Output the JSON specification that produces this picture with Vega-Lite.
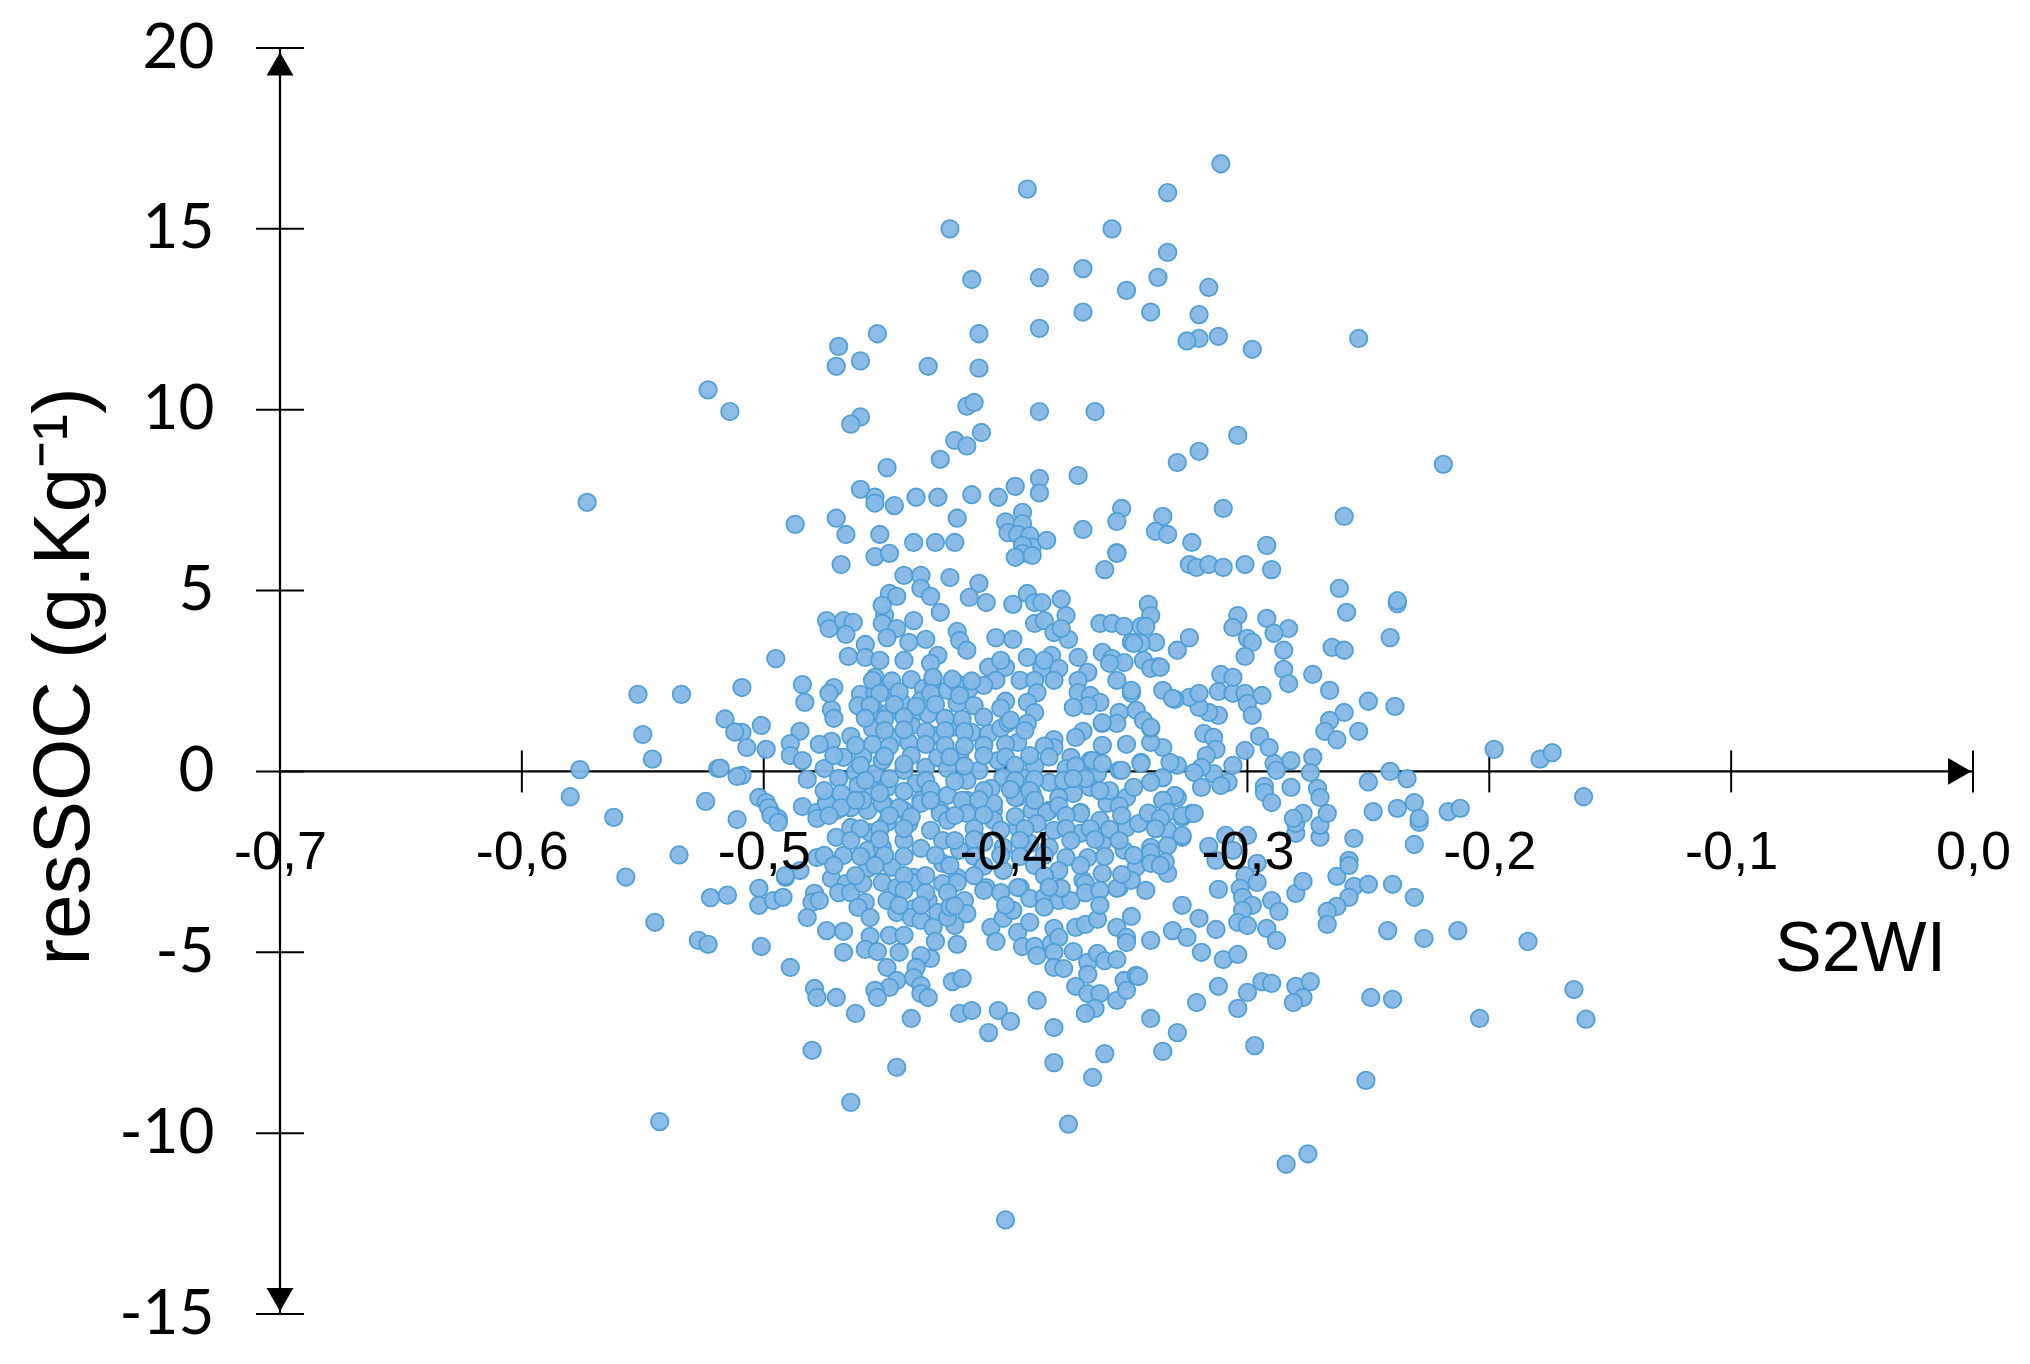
{"$schema":"https://vega.github.io/schema/vega-lite/v6.json","width":1693,"height":1266,"autosize":"none","padding":{"left":280,"top":48,"right":57,"bottom":50},"background":"white","config":{"view":{"stroke":null}},
"datasets":{"pts":[
{"s":-0.391,"r":16.1},{"s":-0.423,"r":15.0},{"s":-0.414,"r":13.6},{"s":-0.386,"r":13.65},{"s":-0.453,"r":12.1},{"s":-0.469,"r":11.75},{"s":-0.47,"r":11.2},{"s":-0.46,"r":11.35},{"s":-0.411,"r":12.1},{"s":-0.411,"r":11.15},{"s":-0.432,"r":11.2},{"s":-0.386,"r":12.25},{"s":-0.523,"r":10.55},{"s":-0.514,"r":9.95},{"s":-0.46,"r":9.8},{"s":-0.464,"r":9.6},{"s":-0.416,"r":10.1},{"s":-0.413,"r":10.2},{"s":-0.386,"r":9.95},{"s":-0.41,"r":9.37},{"s":-0.421,"r":9.15},{"s":-0.416,"r":9.0},{"s":-0.427,"r":8.63},{"s":-0.449,"r":8.4},{"s":-0.573,"r":7.44},{"s":-0.46,"r":7.8},{"s":-0.454,"r":7.58},{"s":-0.454,"r":7.42},{"s":-0.446,"r":7.35},{"s":-0.437,"r":7.58},{"s":-0.428,"r":7.58},{"s":-0.414,"r":7.65},{"s":-0.403,"r":7.58},{"s":-0.396,"r":7.88},{"s":-0.386,"r":8.1},{"s":-0.386,"r":7.7},{"s":-0.487,"r":6.83},{"s":-0.47,"r":7.0},{"s":-0.466,"r":6.55},{"s":-0.452,"r":6.55},{"s":-0.42,"r":7.0},{"s":-0.438,"r":6.33},{"s":-0.429,"r":6.33},{"s":-0.421,"r":6.33},{"s":-0.4,"r":6.9},{"s":-0.393,"r":7.16},{"s":-0.393,"r":6.85},{"s":-0.399,"r":6.6},{"s":-0.395,"r":6.55},{"s":-0.39,"r":6.52},{"s":-0.389,"r":6.2},{"s":-0.393,"r":6.25},
{"s":-0.311,"r":16.8},{"s":-0.333,"r":16.0},{"s":-0.356,"r":15.0},{"s":-0.333,"r":14.35},{"s":-0.368,"r":13.9},{"s":-0.337,"r":13.66},{"s":-0.35,"r":13.3},{"s":-0.316,"r":13.38},{"s":-0.368,"r":12.7},{"s":-0.34,"r":12.7},{"s":-0.32,"r":12.63},{"s":-0.312,"r":12.03},{"s":-0.32,"r":11.97},{"s":-0.325,"r":11.9},{"s":-0.298,"r":11.67},{"s":-0.254,"r":11.97},{"s":-0.363,"r":9.95},{"s":-0.304,"r":9.29},{"s":-0.32,"r":8.85},{"s":-0.329,"r":8.54},{"s":-0.219,"r":8.49},{"s":-0.37,"r":8.18},{"s":-0.352,"r":7.27},{"s":-0.354,"r":6.91},{"s":-0.31,"r":7.27},{"s":-0.335,"r":7.05},{"s":-0.338,"r":6.64},{"s":-0.333,"r":6.55},{"s":-0.368,"r":6.69},{"s":-0.383,"r":6.39},{"s":-0.323,"r":6.33},{"s":-0.292,"r":6.25},{"s":-0.26,"r":7.05},{"s":-0.354,"r":6.05},
{"s":-0.468,"r":5.72},{"s":-0.454,"r":5.94},{"s":-0.448,"r":6.03},{"s":-0.393,"r":6.03},{"s":-0.396,"r":5.92},{"s":-0.389,"r":5.97},{"s":-0.354,"r":6.03},{"s":-0.359,"r":5.58},{"s":-0.442,"r":5.42},{"s":-0.435,"r":5.42},{"s":-0.423,"r":5.36},{"s":-0.411,"r":5.2},{"s":-0.415,"r":4.81},{"s":-0.408,"r":4.67},{"s":-0.448,"r":4.92},{"s":-0.445,"r":4.84},{"s":-0.435,"r":5.06},{"s":-0.431,"r":4.84},{"s":-0.45,"r":4.31},{"s":-0.451,"r":4.59},{"s":-0.427,"r":4.4},{"s":-0.438,"r":4.17},{"s":-0.451,"r":4.09},{"s":-0.445,"r":3.95},{"s":-0.449,"r":3.7},{"s":-0.44,"r":3.57},{"s":-0.433,"r":3.65},{"s":-0.42,"r":3.87},{"s":-0.419,"r":3.62},{"s":-0.416,"r":3.35},{"s":-0.404,"r":3.7},{"s":-0.397,"r":3.65},{"s":-0.397,"r":4.62},{"s":-0.391,"r":4.92},{"s":-0.388,"r":4.67},{"s":-0.385,"r":4.67},{"s":-0.377,"r":4.76},{"s":-0.375,"r":4.31},{"s":-0.388,"r":4.09},{"s":-0.384,"r":4.17},{"s":-0.38,"r":3.84},{"s":-0.374,"r":3.65},{"s":-0.377,"r":3.95},{"s":-0.361,"r":4.09},{"s":-0.356,"r":4.09},{"s":-0.351,"r":4.01},{"s":-0.344,"r":4.01},{"s":-0.348,"r":3.57},{"s":-0.36,"r":3.29},{"s":-0.356,"r":3.12},{"s":-0.351,"r":3.01},{"s":-0.354,"r":2.52},{"s":-0.357,"r":2.99},{"s":-0.37,"r":3.15},{"s":-0.366,"r":2.74},{"s":-0.37,"r":2.52},{"s":-0.37,"r":2.18},{"s":-0.365,"r":2.1},{"s":-0.361,"r":1.91},{"s":-0.366,"r":1.82},{"s":-0.372,"r":1.77},{"s":-0.381,"r":3.21},{"s":-0.391,"r":3.15},{"s":-0.378,"r":2.85},{"s":-0.385,"r":2.85},{"s":-0.407,"r":2.88},{"s":-0.4,"r":2.88},{"s":-0.404,"r":2.52},{"s":-0.394,"r":2.52},{"s":-0.388,"r":2.52},{"s":-0.38,"r":2.52},{"s":-0.415,"r":2.29},{"s":-0.409,"r":2.38},{"s":-0.387,"r":2.18},{"s":-0.4,"r":1.94},{"s":-0.391,"r":1.91},{"s":-0.388,"r":1.63},{"s":-0.391,"r":1.33},{"s":-0.348,"r":2.16},{"s":-0.353,"r":1.63},{"s":-0.346,"r":1.69},{"s":-0.36,"r":1.33},{"s":-0.354,"r":1.33},{"s":-0.368,"r":1.11},{"s":-0.371,"r":0.94},{"s":-0.38,"r":0.88},{"s":-0.38,"r":0.66},{"s":-0.36,"r":0.72},{"s":-0.35,"r":0.75},{"s":-0.373,"r":0.39},{"s":-0.365,"r":0.3},{"s":-0.388,"r":0.14},{"s":-0.375,"r":0.08},{"s":-0.362,"r":-0.06},{"s":-0.353,"r":0.03},
{"s":-0.495,"r":3.12},{"s":-0.509,"r":2.32},{"s":-0.484,"r":2.4},{"s":-0.483,"r":1.91},{"s":-0.471,"r":2.32},{"s":-0.472,"r":1.71},{"s":-0.471,"r":1.47},{"s":-0.473,"r":2.16},{"s":-0.474,"r":4.17},{"s":-0.473,"r":3.95},{"s":-0.467,"r":4.17},{"s":-0.463,"r":4.12},{"s":-0.466,"r":3.79},{"s":-0.458,"r":3.51},{"s":-0.465,"r":3.18},{"s":-0.458,"r":3.15},{"s":-0.454,"r":2.6},{"s":-0.46,"r":2.13},{"s":-0.461,"r":1.82},{"s":-0.454,"r":2.16},{"s":-0.448,"r":2.24},{"s":-0.439,"r":2.54},{"s":-0.443,"r":1.91},{"s":-0.434,"r":2.29},{"s":-0.43,"r":2.52},{"s":-0.424,"r":2.24},{"s":-0.42,"r":2.43},{"s":-0.428,"r":3.21},{"s":-0.431,"r":2.99},{"s":-0.454,"r":1.69},{"s":-0.449,"r":1.6},{"s":-0.455,"r":1.19},{"s":-0.438,"r":1.6},{"s":-0.432,"r":1.58},{"s":-0.42,"r":1.88},{"s":-0.435,"r":1.96},{"s":-0.439,"r":1.27},{"s":-0.43,"r":1.0},{"s":-0.422,"r":1.22},{"s":-0.418,"r":1.44},{"s":-0.414,"r":1.08},{"s":-0.407,"r":1.05},{"s":-0.402,"r":1.19},{"s":-0.399,"r":1.35},{"s":-0.395,"r":0.8},{"s":-0.445,"r":0.94},{"s":-0.44,"r":0.8},{"s":-0.455,"r":0.75},{"s":-0.464,"r":0.97},{"s":-0.472,"r":0.83},{"s":-0.477,"r":0.75},{"s":-0.485,"r":1.11},{"s":-0.489,"r":0.77},{"s":-0.489,"r":0.44},{"s":-0.501,"r":1.27},{"s":-0.509,"r":1.08},{"s":-0.507,"r":0.66},{"s":-0.499,"r":0.61},{"s":-0.484,"r":0.3},{"s":-0.482,"r":-0.22},{"s":-0.475,"r":0.08},{"s":-0.467,"r":0.39},{"s":-0.459,"r":0.39},{"s":-0.469,"r":-0.19},{"s":-0.462,"r":-0.03},{"s":-0.454,"r":-0.06},{"s":-0.451,"r":0.3},{"s":-0.442,"r":0.03},{"s":-0.439,"r":0.44},{"s":-0.433,"r":0.11},{"s":-0.428,"r":0.39},{"s":-0.424,"r":0.08},{"s":-0.419,"r":0.44},{"s":-0.411,"r":0.03},{"s":-0.403,"r":0.3},{"s":-0.401,"r":-0.17},{"s":-0.393,"r":-0.17},{"s":-0.382,"r":-0.3},{"s":-0.372,"r":-0.61},{"s":-0.365,"r":-0.44},{"s":-0.35,"r":-0.72},{"s":-0.358,"r":-0.88},{"s":-0.369,"r":-1.13},{"s":-0.378,"r":-0.72},{"s":-0.389,"r":-0.61},{"s":-0.395,"r":-0.72},{"s":-0.406,"r":-0.47},{"s":-0.416,"r":-0.25},{"s":-0.424,"r":-0.66},{"s":-0.416,"r":-0.8},{"s":-0.437,"r":-0.33},{"s":-0.449,"r":-0.44},{"s":-0.455,"r":-0.53},{"s":-0.461,"r":-0.39},{"s":-0.468,"r":-0.61},{"s":-0.474,"r":-0.86},{"s":-0.484,"r":-0.97},{"s":-0.478,"r":-1.13},{"s":-0.47,"r":-1.08},{"s":-0.464,"r":-1.0},{"s":-0.457,"r":-1.08},{"s":-0.45,"r":-0.94},{"s":-0.442,"r":-1.08},{"s":-0.435,"r":-0.8},{"s":-0.427,"r":-1.08},{"s":-0.405,"r":-1.08},{"s":-0.389,"r":-1.08},{"s":-0.382,"r":-1.08},{"s":-0.502,"r":-0.72},{"s":-0.499,"r":-0.86},{"s":-0.497,"r":-1.13},{"s":-0.494,"r":-1.3},{"s":-0.509,"r":-0.11},{"s":-0.519,"r":0.08},{"s":-0.511,"r":-0.14},{"s":-0.524,"r":-0.83},{"s":-0.511,"r":-1.33},{"s":-0.498,"r":-1.0},{"s":-0.497,"r":-1.22},{"s":-0.494,"r":-1.41},{"s":-0.474,"r":-0.88},{"s":-0.478,"r":-1.3},{"s":-0.47,"r":-1.82},{"s":-0.464,"r":-1.55},
{"s":-0.468,"r":-1.0},{"s":-0.459,"r":-0.8},{"s":-0.451,"r":-0.88},{"s":-0.444,"r":-1.0},{"s":-0.435,"r":-0.88},{"s":-0.427,"r":-1.16},{"s":-0.418,"r":-0.8},{"s":-0.405,"r":-0.88},{"s":-0.396,"r":-0.72},{"s":-0.383,"r":-1.13},{"s":-0.369,"r":-1.16},{"s":-0.361,"r":-1.35},{"s":-0.35,"r":-1.55},{"s":-0.345,"r":-1.44},{"s":-0.335,"r":-0.8},{"s":-0.329,"r":-0.72},{"s":-0.327,"r":-1.27},{"s":-0.323,"r":-1.16},{"s":-0.456,"r":-1.69},{"s":-0.449,"r":-1.41},{"s":-0.44,"r":-1.44},{"s":-0.431,"r":-1.63},{"s":-0.424,"r":-1.35},{"s":-0.416,"r":-1.16},{"s":-0.405,"r":-1.35},{"s":-0.395,"r":-1.55},{"s":-0.387,"r":-1.44},{"s":-0.38,"r":-1.63},{"s":-0.369,"r":-1.71},{"s":-0.36,"r":-1.96},{"s":-0.351,"r":-2.18},{"s":-0.34,"r":-2.1},{"s":-0.333,"r":-1.63},{"s":-0.327,"r":-1.82},{"s":-0.467,"r":-2.32},{"s":-0.457,"r":-2.18},{"s":-0.451,"r":-2.1},{"s":-0.442,"r":-1.91},{"s":-0.435,"r":-2.13},{"s":-0.426,"r":-1.91},{"s":-0.419,"r":-2.18},{"s":-0.409,"r":-1.96},{"s":-0.401,"r":-2.1},{"s":-0.39,"r":-1.99},{"s":-0.382,"r":-2.1},{"s":-0.375,"r":-2.38},{"s":-0.366,"r":-2.38},{"s":-0.478,"r":-2.38},{"s":-0.491,"r":-2.93},{"s":-0.485,"r":-2.74},{"s":-0.472,"r":-2.96},{"s":-0.466,"r":-3.1},{"s":-0.457,"r":-2.68},{"s":-0.447,"r":-2.65},{"s":-0.438,"r":-2.93},{"s":-0.426,"r":-2.54},{"s":-0.42,"r":-2.93},{"s":-0.401,"r":-2.74},{"s":-0.394,"r":-3.21},{"s":-0.378,"r":-2.74},{"s":-0.368,"r":-3.01},{"s":-0.36,"r":-2.82},{"s":-0.353,"r":-3.21},{"s":-0.346,"r":-2.65},{"s":-0.333,"r":-2.82},{"s":-0.408,"r":-3.21},
{"s":-0.502,"r":-3.23},{"s":-0.502,"r":-3.7},{"s":-0.496,"r":-3.57},{"s":-0.492,"r":-3.48},{"s":-0.491,"r":-2.88},{"s":-0.479,"r":-3.37},{"s":-0.48,"r":-3.62},{"s":-0.477,"r":-3.57},{"s":-0.482,"r":-4.04},{"s":-0.474,"r":-4.4},{"s":-0.467,"r":-4.42},{"s":-0.467,"r":-5.0},{"s":-0.469,"r":-3.35},{"s":-0.464,"r":-3.35},{"s":-0.459,"r":-3.1},{"s":-0.451,"r":-3.07},{"s":-0.445,"r":-3.21},{"s":-0.458,"r":-3.62},{"s":-0.461,"r":-3.76},{"s":-0.449,"r":-3.57},{"s":-0.456,"r":-4.04},{"s":-0.445,"r":-3.9},{"s":-0.438,"r":-3.79},{"s":-0.438,"r":-3.07},{"s":-0.439,"r":-4.04},{"s":-0.432,"r":-3.57},{"s":-0.428,"r":-3.9},{"s":-0.435,"r":-4.12},{"s":-0.43,"r":-4.31},{"s":-0.433,"r":-3.35},{"s":-0.426,"r":-3.1},{"s":-0.42,"r":-3.07},{"s":-0.424,"r":-3.35},{"s":-0.417,"r":-3.57},{"s":-0.416,"r":-3.93},{"s":-0.421,"r":-4.26},{"s":-0.424,"r":-4.04},{"s":-0.429,"r":-4.7},{"s":-0.42,"r":-4.78},{"s":-0.456,"r":-4.56},{"s":-0.448,"r":-4.53},{"s":-0.442,"r":-4.53},{"s":-0.458,"r":-4.92},{"s":-0.453,"r":-4.98},{"s":-0.444,"r":-5.0},{"s":-0.449,"r":-5.42},{"s":-0.431,"r":-5.17},{"s":-0.435,"r":-5.09},{"s":-0.437,"r":-5.42},{"s":-0.438,"r":-5.7},{"s":-0.445,"r":-5.78},{"s":-0.448,"r":-5.97},{"s":-0.454,"r":-6.05},{"s":-0.453,"r":-6.25},{"s":-0.435,"r":-5.92},{"s":-0.435,"r":-6.14},{"s":-0.432,"r":-6.25},{"s":-0.422,"r":-5.81},{"s":-0.418,"r":-5.72},{"s":-0.419,"r":-6.69},{"s":-0.414,"r":-6.61},{"s":-0.403,"r":-6.61},{"s":-0.398,"r":-6.91},{"s":-0.407,"r":-7.22},{"s":-0.439,"r":-6.83},{"s":-0.462,"r":-6.69},{"s":-0.479,"r":-6.0},{"s":-0.478,"r":-6.25},{"s":-0.47,"r":-6.25},{"s":-0.489,"r":-5.42},{"s":-0.501,"r":-4.84},{"s":-0.48,"r":-7.71},{"s":-0.445,"r":-8.18},{"s":-0.464,"r":-9.15},{"s":-0.406,"r":-4.31},{"s":-0.404,"r":-4.7},{"s":-0.401,"r":-4.06},{"s":-0.397,"r":-3.84},{"s":-0.395,"r":-4.45},{"s":-0.39,"r":-4.17},{"s":-0.39,"r":-3.51},{"s":-0.395,"r":-3.21},{"s":-0.384,"r":-3.48},{"s":-0.378,"r":-3.57},{"s":-0.373,"r":-3.57},{"s":-0.377,"r":-3.23},{"s":-0.367,"r":-3.1},{"s":-0.367,"r":-3.35},{"s":-0.354,"r":-3.23},{"s":-0.348,"r":-3.01},{"s":-0.393,"r":-4.84},{"s":-0.388,"r":-4.84},{"s":-0.387,"r":-5.09},{"s":-0.381,"r":-4.76},{"s":-0.38,"r":-4.34},{"s":-0.378,"r":-4.59},{"s":-0.38,"r":-5.0},{"s":-0.372,"r":-4.98},{"s":-0.38,"r":-5.42},{"s":-0.376,"r":-5.45},{"s":-0.371,"r":-4.31},{"s":-0.367,"r":-4.23},{"s":-0.362,"r":-4.09},{"s":-0.354,"r":-4.31},{"s":-0.348,"r":-4.01},{"s":-0.35,"r":-4.59},{"s":-0.35,"r":-4.73},{"s":-0.366,"r":-5.28},{"s":-0.362,"r":-5.03},{"s":-0.359,"r":-5.23},{"s":-0.354,"r":-5.2},{"s":-0.366,"r":-5.61},{"s":-0.371,"r":-5.94},{"s":-0.366,"r":-6.14},{"s":-0.361,"r":-6.14},{"s":-0.363,"r":-6.55},{"s":-0.367,"r":-6.69},{"s":-0.354,"r":-6.33},{"s":-0.351,"r":-5.78},{"s":-0.35,"r":-6.05},{"s":-0.346,"r":-5.64},{"s":-0.387,"r":-6.33},{"s":-0.38,"r":-7.08},{"s":-0.38,"r":-8.05},{"s":-0.359,"r":-7.8},{"s":-0.364,"r":-8.46},
{"s":-0.316,"r":-2.07},{"s":-0.313,"r":-2.46},{"s":-0.309,"r":-1.77},{"s":-0.3,"r":-1.77},{"s":-0.306,"r":-2.18},{"s":-0.296,"r":-2.54},{"s":-0.301,"r":-2.88},{"s":-0.296,"r":-3.07},{"s":-0.303,"r":-3.23},{"s":-0.312,"r":-3.26},{"s":-0.302,"r":-3.48},{"s":-0.298,"r":-3.7},{"s":-0.29,"r":-3.57},{"s":-0.287,"r":-3.87},{"s":-0.302,"r":-3.84},{"s":-0.304,"r":-4.17},{"s":-0.3,"r":-4.26},{"s":-0.292,"r":-4.34},{"s":-0.288,"r":-4.67},{"s":-0.327,"r":-3.7},{"s":-0.32,"r":-4.06},{"s":-0.313,"r":-4.37},{"s":-0.331,"r":-4.4},{"s":-0.325,"r":-4.59},{"s":-0.34,"r":-4.67},{"s":-0.319,"r":-5.0},{"s":-0.31,"r":-5.2},{"s":-0.304,"r":-5.06},{"s":-0.345,"r":-5.67},{"s":-0.312,"r":-5.94},{"s":-0.321,"r":-6.39},{"s":-0.3,"r":-6.11},{"s":-0.304,"r":-6.55},{"s":-0.294,"r":-5.81},{"s":-0.29,"r":-5.86},{"s":-0.28,"r":-5.94},{"s":-0.274,"r":-5.81},{"s":-0.277,"r":-6.25},{"s":-0.281,"r":-6.39},{"s":-0.34,"r":-6.83},{"s":-0.329,"r":-7.22},{"s":-0.335,"r":-7.74},{"s":-0.297,"r":-7.58},{"s":-0.249,"r":-6.25},{"s":-0.24,"r":-6.3},{"s":-0.204,"r":-6.83},{"s":-0.251,"r":-8.54},{"s":-0.28,"r":-3.37},{"s":-0.277,"r":-3.04},{"s":-0.263,"r":-2.9},{"s":-0.258,"r":-2.46},{"s":-0.258,"r":-2.6},{"s":-0.256,"r":-1.85},{"s":-0.27,"r":-1.82},{"s":-0.28,"r":-1.71},{"s":-0.27,"r":-1.49},{"s":-0.28,"r":-1.44},{"s":-0.231,"r":-2.02},{"s":-0.229,"r":-1.41},{"s":-0.256,"r":-3.18},{"s":-0.25,"r":-3.12},{"s":-0.24,"r":-3.12},{"s":-0.231,"r":-3.48},{"s":-0.258,"r":-3.48},{"s":-0.263,"r":-3.73},{"s":-0.267,"r":-3.87},{"s":-0.267,"r":-4.23},{"s":-0.242,"r":-4.4},{"s":-0.227,"r":-4.62},{"s":-0.213,"r":-4.4},{"s":-0.184,"r":-4.7},{"s":-0.327,"r":-1.77},{"s":-0.333,"r":-2.05},{"s":-0.34,"r":-2.24},{"s":-0.334,"r":-2.5},{"s":-0.34,"r":-2.54},
{"s":-0.324,"r":5.72},{"s":-0.321,"r":5.64},{"s":-0.316,"r":5.72},{"s":-0.31,"r":5.64},{"s":-0.301,"r":5.72},{"s":-0.29,"r":5.58},{"s":-0.262,"r":5.06},{"s":-0.238,"r":4.64},{"s":-0.238,"r":4.72},{"s":-0.259,"r":4.4},{"s":-0.241,"r":3.7},{"s":-0.265,"r":3.43},{"s":-0.26,"r":3.35},{"s":-0.273,"r":2.68},{"s":-0.266,"r":2.24},{"s":-0.25,"r":1.94},{"s":-0.239,"r":1.8},{"s":-0.26,"r":1.63},{"s":-0.266,"r":1.41},{"s":-0.268,"r":1.11},{"s":-0.254,"r":1.11},{"s":-0.263,"r":0.88},{"s":-0.198,"r":0.61},{"s":-0.179,"r":0.34},{"s":-0.174,"r":0.52},{"s":-0.241,"r":0.0},{"s":-0.234,"r":-0.2},{"s":-0.25,"r":-0.29},{"s":-0.273,"r":0.39},{"s":-0.274,"r":-0.03},{"s":-0.282,"r":0.3},{"s":-0.289,"r":0.22},{"s":-0.288,"r":0.03},{"s":-0.282,"r":-0.44},{"s":-0.293,"r":-0.41},{"s":-0.293,"r":-0.58},{"s":-0.29,"r":-0.86},{"s":-0.271,"r":-0.47},{"s":-0.27,"r":-0.72},{"s":-0.267,"r":-1.16},{"s":-0.277,"r":-1.16},{"s":-0.281,"r":-1.3},{"s":-0.248,"r":-1.11},{"s":-0.238,"r":-1.02},{"s":-0.231,"r":-0.86},{"s":-0.229,"r":-1.3},{"s":-0.217,"r":-1.11},{"s":-0.212,"r":-1.02},{"s":-0.301,"r":0.58},{"s":-0.295,"r":0.97},{"s":-0.291,"r":0.66},{"s":-0.318,"r":1.05},{"s":-0.314,"r":0.94},{"s":-0.313,"r":0.61},{"s":-0.317,"r":0.44},{"s":-0.306,"r":0.17},{"s":-0.314,"r":-0.06},{"s":-0.319,"r":0.11},{"s":-0.322,"r":-0.03},{"s":-0.308,"r":-0.3},{"s":-0.311,"r":-0.39},{"s":-0.319,"r":-0.44},{"s":-0.329,"r":0.17},{"s":-0.332,"r":0.25},{"s":-0.335,"r":-0.17},{"s":-0.34,"r":-0.3},{"s":-0.344,"r":0.25},{"s":-0.335,"r":0.66},{"s":-0.34,"r":0.8},{"s":-0.34,"r":1.19},{"s":-0.343,"r":1.41},{"s":-0.33,"r":-0.66},{"s":-0.335,"r":-0.8},{"s":-0.333,"r":-1.13},{"s":-0.327,"r":-1.22},{"s":-0.322,"r":-1.16},{"s":-0.312,"r":1.55},{"s":-0.316,"r":1.63},{"s":-0.32,"r":1.77},{"s":-0.324,"r":2.05},{"s":-0.32,"r":2.16},{"s":-0.33,"r":1.99},{"s":-0.335,"r":2.24},{"s":-0.312,"r":2.21},{"s":-0.306,"r":2.16},{"s":-0.311,"r":2.68},{"s":-0.306,"r":2.6},{"s":-0.301,"r":2.16},{"s":-0.294,"r":2.1},{"s":-0.3,"r":1.88},{"s":-0.298,"r":1.55},{"s":-0.304,"r":4.31},{"s":-0.306,"r":3.98},{"s":-0.292,"r":4.23},{"s":-0.283,"r":3.95},{"s":-0.289,"r":3.82},{"s":-0.3,"r":3.68},{"s":-0.298,"r":3.57},{"s":-0.301,"r":3.18},{"s":-0.285,"r":3.35},{"s":-0.285,"r":2.82},{"s":-0.283,"r":2.43},{"s":-0.324,"r":3.7},{"s":-0.329,"r":3.35},{"s":-0.338,"r":3.57},{"s":-0.341,"r":4.62},{"s":-0.34,"r":4.31},{"s":-0.342,"r":4.01},{"s":-0.344,"r":3.54},{"s":-0.343,"r":3.07},{"s":-0.337,"r":2.9},{"s":-0.34,"r":2.85},
{"s":-0.347,"r":3.54},{"s":-0.336,"r":2.88},{"s":-0.348,"r":2.24},{"s":-0.331,"r":2.02},{"s":-0.34,"r":1.22},{"s":-0.36,"r":1.35},{"s":-0.364,"r":0.3},{"s":-0.36,"r":0.22},{"s":-0.352,"r":0.03},{"s":-0.344,"r":0.22},{"s":-0.357,"r":-0.53},{"s":-0.347,"r":-0.44},
{"s":-0.58,"r":-0.7},{"s":-0.576,"r":0.05},{"s":-0.562,"r":-1.27},{"s":-0.552,"r":2.13},{"s":-0.55,"r":1.02},{"s":-0.546,"r":0.34},{"s":-0.557,"r":-2.92},{"s":-0.545,"r":-4.17},{"s":-0.535,"r":-2.31},{"s":-0.534,"r":2.13},{"s":-0.518,"r":0.09},{"s":-0.516,"r":1.45},{"s":-0.512,"r":1.09},{"s":-0.527,"r":-4.67},{"s":-0.523,"r":-4.78},{"s":-0.522,"r":-3.49},{"s":-0.515,"r":-3.42},{"s":-0.543,"r":-9.68},{"s":-0.4,"r":-12.4},{"s":-0.374,"r":-9.75},{"s":-0.284,"r":-10.86},{"s":-0.275,"r":-10.57},{"s":-0.165,"r":-6.03},{"s":-0.16,"r":-6.85},{"s":-0.161,"r":-0.7},
{"s":-0.455,"r":2.52},{"s":-0.447,"r":2.5},{"s":-0.43,"r":2.6},{"s":-0.422,"r":2.55},{"s":-0.414,"r":2.5},{"s":-0.452,"r":2.16},{"s":-0.444,"r":2.2},{"s":-0.431,"r":2.16},{"s":-0.419,"r":2.1},{"s":-0.456,"r":1.82},{"s":-0.446,"r":1.85},{"s":-0.437,"r":1.8},{"s":-0.429,"r":1.85},{"s":-0.413,"r":1.82},{"s":-0.402,"r":1.75},{"s":-0.458,"r":1.47},{"s":-0.45,"r":1.45},{"s":-0.442,"r":1.5},{"s":-0.425,"r":1.47},{"s":-0.409,"r":1.5},{"s":-0.398,"r":1.42},{"s":-0.45,"r":1.13},{"s":-0.442,"r":1.15},{"s":-0.433,"r":1.1},{"s":-0.425,"r":1.13},{"s":-0.417,"r":1.1},{"s":-0.392,"r":1.13},{"s":-0.462,"r":0.72},{"s":-0.448,"r":0.7},{"s":-0.433,"r":0.75},{"s":-0.425,"r":0.72},{"s":-0.417,"r":0.7},{"s":-0.409,"r":0.72},{"s":-0.4,"r":0.75},{"s":-0.384,"r":0.7},{"s":-0.471,"r":0.44},{"s":-0.45,"r":0.42},{"s":-0.423,"r":0.4},{"s":-0.409,"r":0.44},{"s":-0.4,"r":0.4},{"s":-0.39,"r":0.44},{"s":-0.382,"r":0.4},{"s":-0.46,"r":0.17},{"s":-0.442,"r":0.2},{"s":-0.417,"r":0.15},{"s":-0.396,"r":0.17},{"s":-0.371,"r":0.15},{"s":-0.458,"r":-0.25},{"s":-0.448,"r":-0.2},{"s":-0.433,"r":-0.25},{"s":-0.421,"r":-0.28},{"s":-0.396,"r":-0.25},{"s":-0.388,"r":-0.22},{"s":-0.376,"r":-0.25},{"s":-0.367,"r":-0.2},{"s":-0.475,"r":-0.53},{"s":-0.442,"r":-0.55},{"s":-0.431,"r":-0.5},{"s":-0.409,"r":-0.53},{"s":-0.398,"r":-0.5},{"s":-0.39,"r":-0.53},{"s":-0.372,"r":-0.2},{"s":-0.361,"r":-0.53},{"s":-0.462,"r":-0.8},{"s":-0.452,"r":-0.6},{"s":-0.431,"r":-0.8},{"s":-0.411,"r":-0.78},{"s":-0.388,"r":-0.8},{"s":-0.378,"r":-0.95},{"s":-0.353,"r":-0.95},{"s":-0.473,"r":-1.22},{"s":-0.448,"r":-1.22},{"s":-0.439,"r":-1.25},{"s":-0.421,"r":-1.22},{"s":-0.409,"r":-1.2},{"s":-0.396,"r":-1.25},{"s":-0.375,"r":-1.22},{"s":-0.352,"r":-1.22},{"s":-0.341,"r":-1.15},{"s":-0.336,"r":-1.3},{"s":-0.46,"r":-1.58},{"s":-0.452,"r":-1.6},{"s":-0.442,"r":-1.58},{"s":-0.413,"r":-1.58},{"s":-0.402,"r":-1.62},{"s":-0.392,"r":-1.58},{"s":-0.375,"r":-1.58},{"s":-0.365,"r":-1.58},{"s":-0.357,"r":-1.6},{"s":-0.338,"r":-1.58},{"s":-0.464,"r":-1.91},{"s":-0.452,"r":-1.88},{"s":-0.421,"r":-1.91},{"s":-0.413,"r":-1.88},{"s":-0.394,"r":-1.91},{"s":-0.373,"r":-1.91},{"s":-0.363,"r":-1.88},{"s":-0.353,"r":-1.91},{"s":-0.475,"r":-2.32},{"s":-0.46,"r":-2.35},{"s":-0.45,"r":-2.32},{"s":-0.442,"r":-2.35},{"s":-0.429,"r":-2.32},{"s":-0.413,"r":-2.35},{"s":-0.402,"r":-2.32},{"s":-0.394,"r":-2.35},{"s":-0.384,"r":-2.32},{"s":-0.359,"r":-2.35},{"s":-0.347,"r":-2.32},{"s":-0.471,"r":-2.6},{"s":-0.454,"r":-2.6},{"s":-0.423,"r":-2.6},{"s":-0.409,"r":-2.62},{"s":-0.388,"r":-2.6},{"s":-0.369,"r":-2.6},{"s":-0.336,"r":-2.6},{"s":-0.462,"r":-2.88},{"s":-0.442,"r":-2.88},{"s":-0.433,"r":-2.88},{"s":-0.413,"r":-2.88},{"s":-0.384,"r":-2.88},{"s":-0.352,"r":-2.85},{"s":-0.442,"r":-3.29},{"s":-0.423,"r":-3.75},{"s":-0.409,"r":-3.29},{"s":-0.402,"r":-3.35},{"s":-0.382,"r":-3.2},{"s":-0.361,"r":-3.29},{"s":-0.342,"r":-3.29},{"s":-0.444,"r":-3.7},{"s":-0.435,"r":-3.7},{"s":-0.421,"r":-3.72},{"s":-0.4,"r":-3.7},{"s":-0.384,"r":-3.75},{"s":-0.361,"r":-3.7},{"s":-0.452,"r":3.07},{"s":-0.442,"r":3.07},{"s":-0.402,"r":3.07},{"s":-0.384,"r":3.07}
],
"xt":[{"s":-0.7,"r":0},{"s":-0.6,"r":0},{"s":-0.5,"r":0},{"s":-0.4,"r":0},{"s":-0.3,"r":0},{"s":-0.2,"r":0},{"s":-0.1,"r":0},{"s":0,"r":0}],
"yt":[{"s":-0.7,"r":-15},{"s":-0.7,"r":-10},{"s":-0.7,"r":-5},{"s":-0.7,"r":0},{"s":-0.7,"r":5},{"s":-0.7,"r":10},{"s":-0.7,"r":15},{"s":-0.7,"r":20}]},
"encoding":{
"x":{"field":"s","type":"quantitative","scale":{"domain":[-0.7,0],"nice":false,"zero":false},"axis":{"orient":"bottom","offset":-543,"zindex":1,"values":[-0.7,-0.6,-0.5,-0.4,-0.3,-0.2,-0.1,0],"domain":false,"ticks":false,"grid":false,"labelFont":"Liberation Sans","labelFontSize":54,"labelColor":"black","labelBaseline":"alphabetic","labelPadding":97,"labelFlush":false,"labelOverlap":false,"labelExpr":"replace(replace(format(datum.value,'.1f'),'.',','),'\u2212','-')","title":"S2WI","titleFont":"Liberation Sans","titleFontSize":70,"titleFontWeight":"normal","titleColor":"black","titleX":1580,"titleY":199,"titleAlign":"center","titleBaseline":"alphabetic"}},
"y":{"field":"r","type":"quantitative","scale":{"domain":[-15,20],"nice":false,"zero":false},"axis":{"orient":"left","zindex":1,"values":[-15,-10,-5,0,5,10,15,20],"domain":false,"ticks":false,"grid":false,"labelFont":"Lato","labelFontSize":62,"labelColor":"black","labelBaseline":"middle","labelPadding":66,"labelFlush":false,"labelOverlap":false,"labelExpr":"replace(format(datum.value,'d'),'\u2212','-')","title":"resSOC (g.Kg\u207b\u00b9)","titleFont":"Liberation Sans","titleFontSize":80,"titleFontWeight":"normal","titleColor":"black","titleX":-192,"titleY":628,"titleAngle":-90,"titleAlign":"center","titleBaseline":"alphabetic"}}},
"layer":[
{"data":{"values":[{"s":-0.7,"r":0,"e":0}]},"mark":{"type":"rule","color":"black","strokeWidth":2.2},"encoding":{"x2":{"field":"e"}}},
{"data":{"values":[{"s":-0.7,"r":-15,"e":20}]},"mark":{"type":"rule","color":"black","strokeWidth":2.2},"encoding":{"y2":{"field":"e"}}},
{"data":{"name":"xt"},"mark":{"type":"tick","orient":"vertical","size":42,"thickness":2,"color":"black","opacity":1},"encoding":{}},
{"data":{"name":"yt"},"mark":{"type":"tick","orient":"horizontal","size":48,"thickness":2,"color":"black","opacity":1},"encoding":{}},
{"data":{"values":[{"s":-0.0055,"r":0,"c":"triangle-right"},{"s":-0.7,"r":19.56,"c":"triangle-up"},{"s":-0.7,"r":-14.6,"c":"triangle-down"}]},"mark":{"type":"point","filled":true,"color":"black","opacity":1,"size":720},"encoding":{"shape":{"field":"c","type":"nominal","scale":null,"legend":null}}},
{"data":{"name":"pts"},"mark":{"type":"circle","size":305,"fill":"#85b8e6","stroke":"#4f9fd6","strokeWidth":1.8,"opacity":1,"fillOpacity":0.95},"encoding":{}}
]}
